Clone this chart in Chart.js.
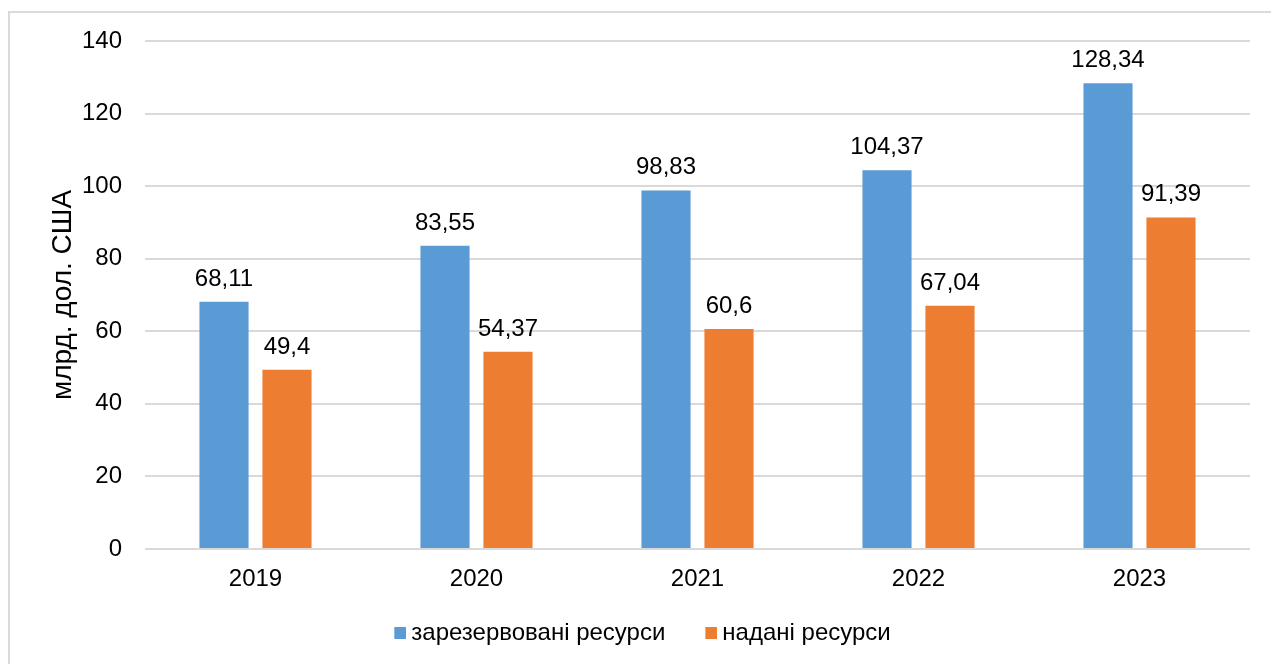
<!DOCTYPE html>
<html>
<head>
<meta charset="utf-8">
<script src="https://cdn.jsdelivr.net/npm/chart.js@4.4.1/dist/chart.umd.min.js"></script>
<style>
  html, body { margin: 0; padding: 0; background: #fff; overflow: hidden; }
  #frame { position: absolute; left: 8px; top: 11px; width: 1300px; height: 700px; border: 2px solid #d9d9d9; box-sizing: border-box; }
  #wrap { position: absolute; left: 0; top: 0; width: 1271px; height: 664px; }
</style>
</head>
<body>
<div id="frame"></div>
<div id="wrap"><canvas id="c" width="1271" height="664"></canvas></div>
<script>
const categories = ['2019', '2020', '2021', '2022', '2023'];
const reserved = [68.11, 83.55, 98.83, 104.37, 128.34];
const provided = [49.4, 54.37, 60.6, 67.04, 91.39];
const seriesNames = ['зарезервовані ресурси', 'надані ресурси'];
const seriesColors = ['#5b9bd5', '#ed7d31'];
const yTitle = 'млрд. дол. США';

const FONT = '"Liberation Sans", Arial, sans-serif';

// legend marker: 12px square at the right end of a wider transparent image
function marker(color) {
  const c = document.createElement('canvas');
  c.width = 33; c.height = 12;
  const g = c.getContext('2d');
  g.fillStyle = color;
  g.fillRect(21, 0, 12, 12);
  return c;
}
const markers = seriesColors.map(marker);

const labelPlugin = {
  id: 'barLabels',
  afterDatasetsDraw(chart) {
    const ctx = chart.ctx;
    ctx.save();
    ctx.font = '24px ' + FONT;
    ctx.fillStyle = '#000';
    ctx.textAlign = 'center';
    ctx.textBaseline = 'alphabetic';
    chart.data.datasets.forEach((ds, di) => {
      const meta = chart.getDatasetMeta(di);
      meta.data.forEach((bar, i) => {
        const txt = String(ds.data[i]).replace('.', ',');
        ctx.fillText(txt, bar.x, bar.y - 16);
      });
    });
    ctx.restore();
  }
};

new Chart(document.getElementById('c'), {
  type: 'bar',
  data: {
    labels: categories,
    datasets: [
      { label: seriesNames[0], data: reserved, backgroundColor: seriesColors[0], categoryPercentage: 0.57, barPercentage: 0.78 },
      { label: seriesNames[1], data: provided, backgroundColor: seriesColors[1], categoryPercentage: 0.57, barPercentage: 0.78 }
    ]
  },
  options: {
    responsive: false,
    animation: false,
    devicePixelRatio: 1,
    layout: { padding: { left: 21, right: 21, top: 41, bottom: 9 } },
    plugins: {
      legend: {
        position: 'bottom',
        labels: {
          usePointStyle: true, pointStyleWidth: 19, boxHeight: 12,
          padding: 26, color: '#000', font: { family: FONT, size: 24 },
          generateLabels(chart) {
            const items = Chart.defaults.plugins.legend.labels.generateLabels(chart);
            items.forEach((it, i) => { it.pointStyle = markers[i]; });
            return items;
          }
        }
      },
      tooltip: { enabled: false }
    },
    scales: {
      x: {
        grid: { display: false, drawTicks: false },
        border: { display: false },
        ticks: { color: '#000', padding: 16, font: { family: FONT, size: 24 } },
        afterFit(s) { s.height = 46; }
      },
      y: {
        min: 0, max: 140,
        grid: { color: '#d9d9d9', lineWidth: 2, drawTicks: false },
        border: { display: false },
        ticks: { stepSize: 20, color: '#000', padding: 23, font: { family: FONT, size: 24 } },
        title: { display: true, text: yTitle, color: '#000', font: { family: FONT, size: 28 }, padding: { top: 25, bottom: 4 } },
        afterFit(s) { s.width = 124; }
      }
    }
  },
  plugins: [labelPlugin]
});
</script>
</body>
</html>
